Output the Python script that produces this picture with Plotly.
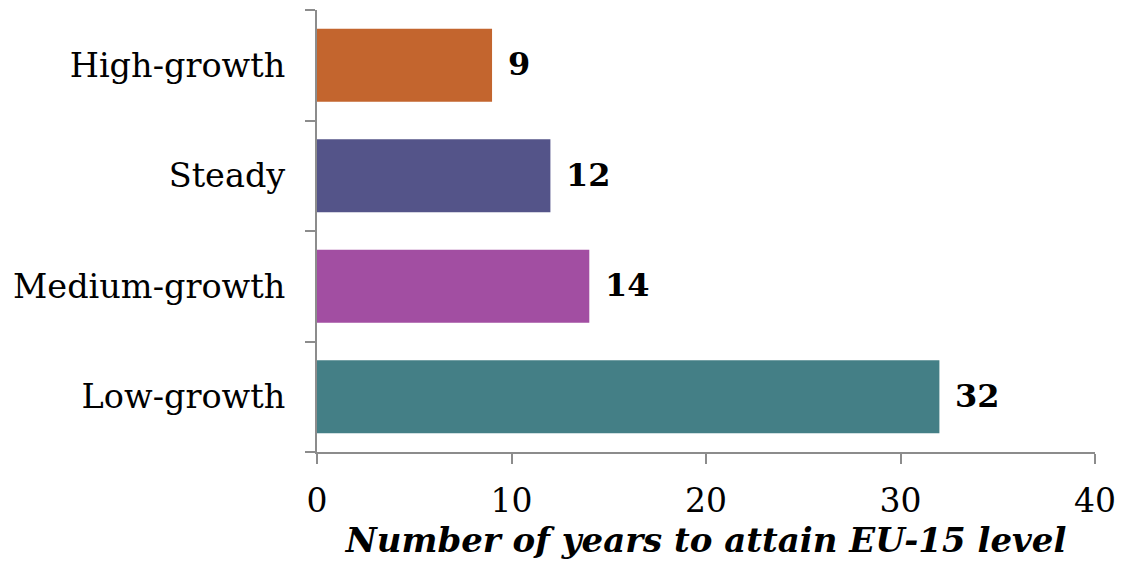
import plotly.graph_objects as go

categories = ["Low-growth", "Medium-growth", "Steady", "High-growth"]
years = [32, 14, 12, 9]
colors = ["#447F86", "#A24EA2", "#545489", "#C3652E"]
x_ticks = [0, 10, 20, 30, 40]

FONT = "DejaVu Serif"

fig = go.Figure(
    go.Bar(
        y=categories,
        x=years,
        orientation="h",
        marker=dict(color=colors, line=dict(width=0)),
        hoverinfo="skip",
    )
)

# value labels just past the end of each bar
for cat, val in zip(categories, years):
    fig.add_annotation(
        x=val, y=cat, text=f"<b>{val}</b>", showarrow=False,
        xanchor="left", xshift=14, yshift=1,
        font=dict(family=FONT, size=32, color="black"),
    )

axis_line = "#8C8C8C"
fig.update_layout(
    width=1130, height=567,
    margin=dict(l=317, r=35, t=10, b=115),
    paper_bgcolor="white", plot_bgcolor="white",
    bargap=0.34,
    showlegend=False,
    font=dict(family=FONT, size=33, color="black"),
    xaxis=dict(
        range=[0, 40], tickvals=x_ticks,
        showgrid=False, zeroline=False,
        showline=True, linecolor=axis_line, linewidth=2,
        ticks="outside", ticklen=10, tickwidth=2, tickcolor=axis_line,
        tickfont=dict(family=FONT, size=33),
        ticklabelstandoff=8,
        title=dict(
            text="<b><i>Number of years to attain EU-15 level</i></b>",
            font=dict(family=FONT, size=34), standoff=7,
        ),
    ),
    yaxis=dict(
        showgrid=False, zeroline=False,
        showline=True, linecolor=axis_line, linewidth=2,
        ticks="outside", ticklen=10, tickwidth=2, tickcolor=axis_line,
        tickson="boundaries",
        tickfont=dict(family=FONT, size=33.5),
        ticklabelstandoff=23,
    ),
)

fig.write_html("out.html")
